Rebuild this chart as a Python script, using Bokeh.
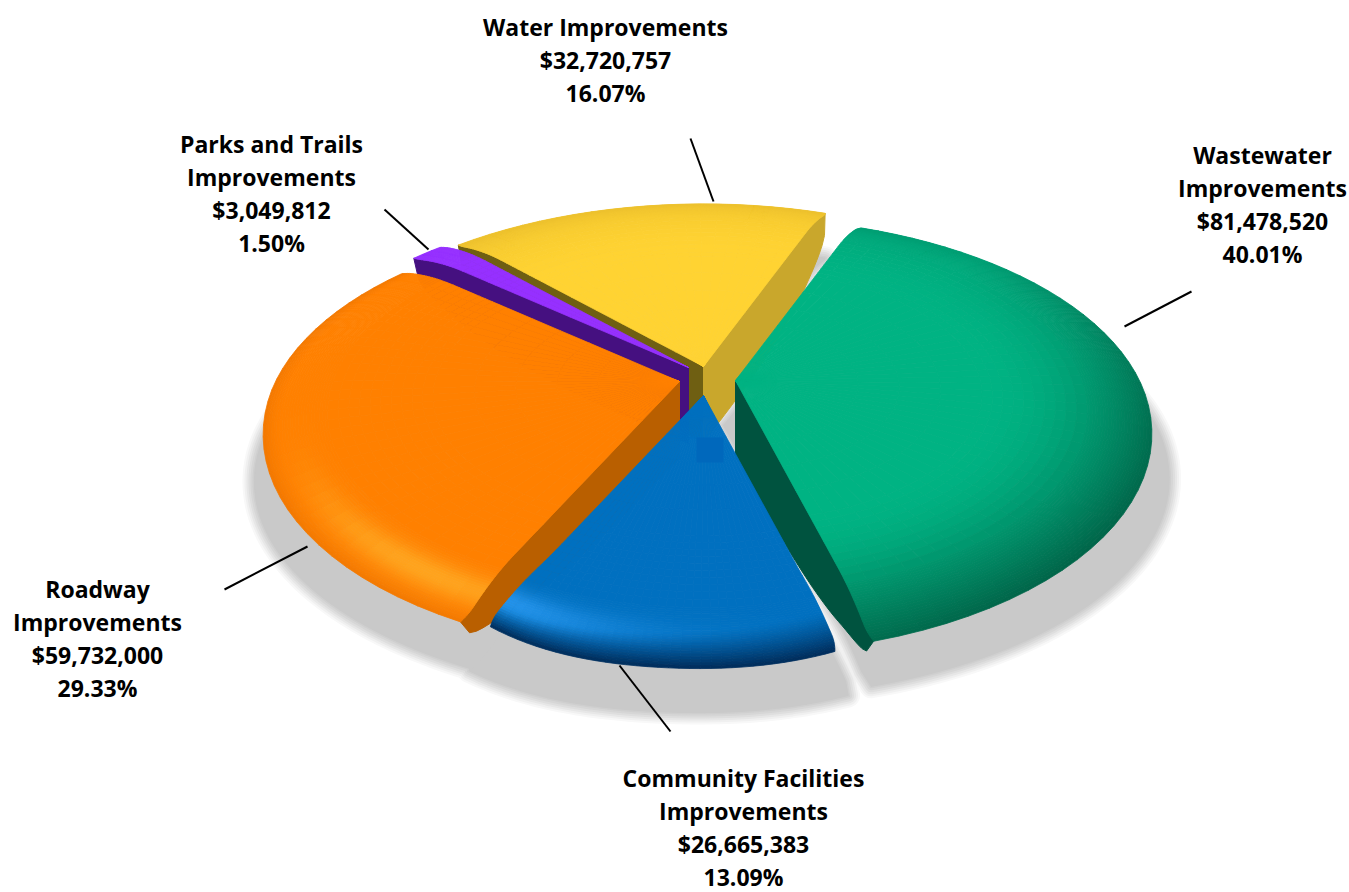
import math
from bokeh.core.properties import value
from bokeh.embed import file_html
from bokeh.models import ColumnDataSource, Range1d
from bokeh.plotting import figure
from bokeh.resources import INLINE

# Budget categories, clockwise from the top of the pie
names = ["Wastewater", "Community", "Roadway", "Parks", "Water"]
amounts = [81478520, 26665383, 59732000, 3049812, 32720757]
label_heads = [
    ["Wastewater", "Improvements"],
    ["Community Facilities", "Improvements"],
    ["Roadway", "Improvements"],
    ["Parks and Trails", "Improvements"],
    ["Water Improvements"],
]

# Look of each wedge
base_colors = {"Wastewater": (0, 179, 131), "Community": (0, 112, 192), "Roadway": (255, 128, 0),
               "Parks": (150, 48, 255), "Water": (255, 211, 50)}
dark_colors = {"Wastewater": (0, 92, 66), "Community": (0, 40, 84), "Roadway": (205, 96, 0),
               "Parks": (110, 30, 200), "Water": (222, 178, 40)}
light_colors = {"Wastewater": (0, 179, 131), "Community": (48, 160, 250), "Roadway": (255, 170, 35),
                "Parks": (150, 48, 255), "Water": (255, 211, 50)}
rim_dark = {"Wastewater": 0.45, "Community": 0.95, "Roadway": 0.25, "Parks": 0.0, "Water": 0.55}
rim_light = {"Wastewater": 0.0, "Community": 0.85, "Roadway": 0.85, "Parks": 0.0, "Water": 0.0}
side_walls = {"Wastewater": (None, "#00533f"), "Community": (None, None),
              "Roadway": ("#b95f00", None), "Parks": ("#451080", None),
              "Water": ("#6f5f12", "#c9a72c")}

# Where each wedge's point sits once pulled out of the pie, and how its shadow is cast:
# horizontal stretch about the point, then horizontal and vertical shift
apex = {"Wastewater": (735, 380), "Community": (703, 395), "Roadway": (679, 381),
        "Parks": (688, 367), "Water": (703, 366)}
shadow_cast = {"Wastewater": (1.07, -12, 45), "Community": (1.10, 0, 44), "Roadway": (1.10, 33, 47),
               "Parks": (1.0, 0, 40), "Water": (1.0, 0, 45)}
# How far the two rim corners of a wedge curl back up (start side, end side)
corner_lift = {"Wastewater": (0, 0), "Community": (6, 11), "Roadway": (0, 0), "Parks": (0, 0), "Water": (0, 0)}
paint_order = ["Water", "Parks", "Roadway", "Wastewater", "Community"]

# Tilted-disc camera
START_DEG = 20.5
RADIUS = 408.0
TILT = 0.505
PERSPECTIVE = 0.20
DROOP = 13.0
WALL_DEPTH = 76.0


def warp(theta):
    return theta - 2.0 + 7.5 * math.sin(math.radians(theta))


def project(theta, t, origin):
    rad = math.radians(theta)
    u, v = math.sin(rad) * t, -math.cos(rad) * t
    w = 1.0 / (1.0 - PERSPECTIVE * v)
    # The rim rolls downward, a little more on the near side
    droop = DROOP * (0.7 + 0.5 * max(0.0, v)) * max(0.0, (t - 0.8) / 0.2) ** 2
    return origin[0] + RADIUS * u * w, origin[1] + RADIUS * TILT * v * w + droop


def clamp(x):
    return max(0.0, min(1.0, x))


def mix(a, b, k):
    return tuple(a[i] + (b[i] - a[i]) * k for i in range(3))


def to_hex(c):
    return "#%02x%02x%02x" % tuple(int(round(x)) for x in c)


total = sum(amounts)
spans = {}
cursor = START_DEG
for name, amount in zip(names, amounts):
    step = amount / total * 360.0
    spans[name] = (warp(cursor), warp(cursor + step))
    cursor += step
# Keep the seam between the last and first wedge continuous
spans["Water"] = (spans["Water"][0], spans["Wastewater"][0] + 360.0)


def wedge_angle(name, a, t):
    lo, hi = spans[name]
    corner = min(0.4, (hi - lo) * 0.05)
    inset = corner * max(0.0, (t - 0.96) / 0.04) ** 2
    return lo + inset + a * (hi - lo - 2 * inset)


def wedge_point(name, a, t):
    x, y = project(wedge_angle(name, a, t), t, apex[name])
    side = corner_lift[name][0 if a < 0.5 else 1]
    y -= side * abs(2 * a - 1) ** 3 * max(0.0, (t - 0.7) / 0.3) ** 2
    return x, y


def outline(name):
    lo, hi = spans[name]
    ts = [i / 30 for i in range(31)]
    steps = max(8, int((hi - lo) / 1.5))
    pts = [wedge_point(name, 0, t) for t in ts]
    pts += [wedge_point(name, i / steps, 1.0) for i in range(1, steps)]
    pts += [wedge_point(name, 1, t) for t in reversed(ts)]
    return pts


def face_color(name, theta, t):
    color = base_colors[name]
    falloff = clamp((t - 0.6) / 0.4) ** 2
    strength = rim_dark[name]
    if name == "Wastewater":
        strength = 0.25 + 0.65 * max(0.0, math.cos(math.radians(theta - 135)))
    if name == "Roadway":
        falloff = clamp((t - 0.95) / 0.05) ** 2
    if name == "Community":
        start = 0.945 - 0.05 * clamp((205 - theta) / 40)
        falloff = clamp((t - start) / (1.0 - start)) ** 1.4
    glow = rim_light[name] * max(0.0, math.cos(math.radians(theta - 215))) ** 11
    glow *= math.exp(-(((t - 0.925) / 0.04) ** 2))
    color = mix(color, light_colors[name], clamp(glow))
    return mix(color, dark_colors[name], clamp(falloff * strength))


def wall_polygon(name, a):
    top, bottom = [], []
    for i in range(41):
        t = i / 40
        x, y = wedge_point(name, a, t)
        depth = WALL_DEPTH * math.sqrt(max(0.0, 1 - t ** 3))
        top.append((x, y))
        bottom.append((x, y + depth))
    return top + bottom[::-1]


p = figure(width=1349, height=892, output_backend="svg", toolbar_location=None,
           x_range=Range1d(0, 1349), y_range=Range1d(892, 0), min_border=0)
p.axis.visible = False
p.grid.visible = False
p.outline_line_color = None
p.background_fill_color = "white"
p.border_fill_color = "white"

# Soft cast shadow, built from opaque rings getting narrower and darker
shadow_layers = [(24, "#f8f8f8"), (20, "#f0f0f0"), (16, "#e7e7e7"), (12, "#dedede"),
                 (8, "#d6d6d6"), (4, "#cfcfcf"), (1, "#c9c9c9")]
for width, tone in shadow_layers:
    xs, ys = [], []
    for name in names:
        stretch, dx, dy = shadow_cast[name]
        ax = apex[name][0]
        pts = outline(name)
        xs.append([ax + (q[0] - ax) * stretch + dx for q in pts])
        ys.append([q[1] + dy for q in pts])
    p.patches(xs, ys, fill_color=tone, line_color=tone, line_width=width, line_join="round")

# Wedges back to front: side walls first, then the shaded top face as a fine mesh
t_grid = ([i / 6 * 0.6 for i in range(6)] + [0.6 + i / 10 * 0.25 for i in range(10)]
          + [0.85 + i / 24 * 0.15 for i in range(25)])
for name in paint_order:
    for a, tone in zip((0, 1), side_walls[name]):
        if tone is None:
            continue
        pts = wall_polygon(name, a)
        p.patch([q[0] for q in pts], [q[1] for q in pts], fill_color=tone, line_color=tone, line_width=1)

    lo, hi = spans[name]
    steps = max(3, int((hi - lo) / (1.2 if name == "Community" else 3.0)))
    xs, ys, tones = [], [], []
    for i in range(steps):
        a0, a1 = i / steps, (i + 1) / steps
        for j in range(len(t_grid) - 1):
            t0, t1 = t_grid[j], t_grid[j + 1]
            corners = [wedge_point(name, a0, t0), wedge_point(name, a1, t0),
                       wedge_point(name, a1, t1), wedge_point(name, a0, t1)]
            xs.append([c[0] for c in corners])
            ys.append([c[1] for c in corners])
            mid_theta = wedge_angle(name, (a0 + a1) / 2, (t0 + t1) / 2)
            tones.append(to_hex(face_color(name, mid_theta, (t0 + t1) / 2)))
    source = ColumnDataSource(dict(xs=xs, ys=ys, tone=tones))
    p.patches("xs", "ys", source=source, fill_color="tone", line_color="tone", line_width=0.8)

# Faint darker tile on the blue face
p.quad(left=[696], right=[723], top=[437], bottom=[462], fill_color="#0068bc", line_color=None)

# Leader lines from the labels to the wedges
leaders = {"Wastewater": ((1191, 291), (1124, 326)), "Community": ((670, 731), (619, 665)),
           "Roadway": ((224, 589), (307, 546)), "Parks": ((384, 209), (428, 249)),
           "Water": ((690, 138), (713, 201))}
for name in names:
    (x0, y0), (x1, y1) = leaders[name]
    p.line([x0, x1], [y0, y1], line_color="black", line_width=2)

# Labels, one text per line
label_anchor = {"Wastewater": (1262, 154), "Community": (743, 777), "Roadway": (97, 588),
                "Parks": (271, 143), "Water": (605, 26)}
LINE_STEP = 33
for name, head, amount in zip(names, label_heads, amounts):
    x, y = label_anchor[name]
    lines = head + [f"${amount:,}", f"{amount / total * 100:.2f}%"]
    p.text([x] * len(lines), [y + LINE_STEP * i for i in range(len(lines))], text=lines,
           text_font=value("Open Sans"), text_font_style="bold", text_font_size="23px",
           text_align="center", text_baseline="middle", text_color="black")

open("out.html", "w").write(file_html(p, INLINE))
